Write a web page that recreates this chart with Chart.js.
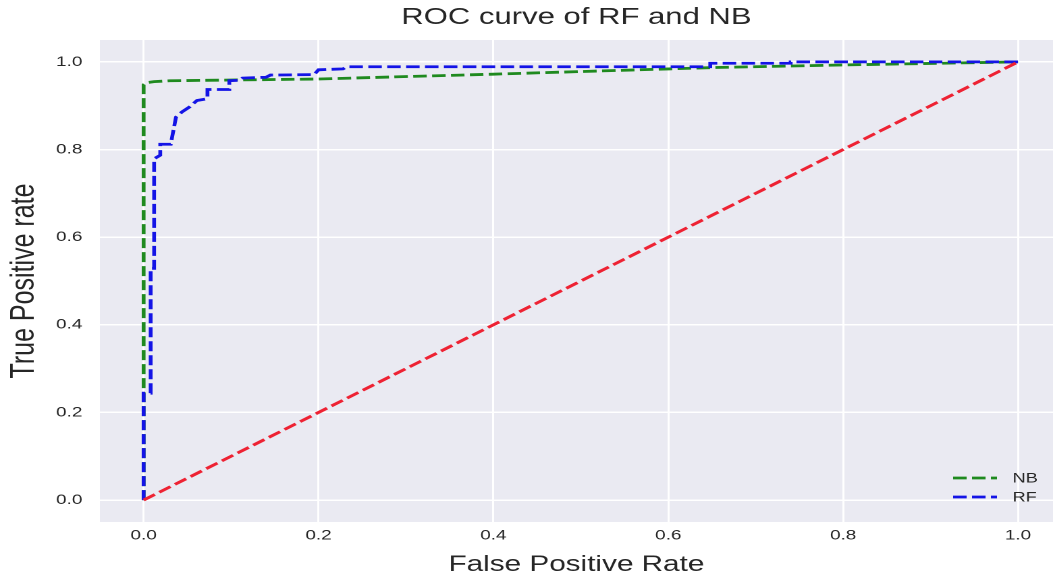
<!DOCTYPE html>
<html>
<head>
<meta charset="utf-8">
<script src="https://cdn.jsdelivr.net/npm/chart.js@4.4.1/dist/chart.umd.min.js"></script>
<style>
  html, body { margin: 0; padding: 0; background: #ffffff; overflow: hidden; }
  #c { display: block; width: 1053px; height: 578px; }
</style>
</head>
<body>
<canvas id="c" width="780" height="578" style="width:1053px;height:578px;"></canvas>
<script>
// ---- data ----
const titleText = "ROC curve of RF and NB";
const xLabel = "False Positive Rate";
const yLabel = "True Positive rate";
const xTicks = [0.0, 0.2, 0.4, 0.6, 0.8, 1.0];
const yTicks = [0.0, 0.2, 0.4, 0.6, 0.8, 1.0];

const nbFpr = [0.0, 0.0,  0.002, 0.005, 0.012, 0.03,  0.2,   0.4,   0.6,   0.65,  0.8,   1.0];
const nbTpr = [0.0, 0.948, 0.951, 0.953, 0.955, 0.957, 0.961, 0.972, 0.984, 0.987, 0.993, 1.0];

const rfFpr = [0.0, 0.0,   0.008, 0.008, 0.012, 0.012, 0.019, 0.019, 0.031, 0.037, 0.044, 0.053, 0.061, 0.073, 0.073, 0.098, 0.098, 0.11,  0.113, 0.14,  0.145, 0.195, 0.2,   0.228, 0.232, 0.648, 0.648, 0.74,  0.74, 1.0];
const rfTpr = [0.0, 0.244, 0.244, 0.529, 0.529, 0.779, 0.787, 0.812, 0.812, 0.874, 0.886, 0.898, 0.912, 0.916, 0.937, 0.937, 0.957, 0.958, 0.963, 0.965, 0.970, 0.971, 0.982, 0.984, 0.989, 0.989, 0.997, 0.997, 1.0,  1.0];

const diagFpr = [0.0, 1.0];
const diagTpr = [0.0, 1.0];

const nbLabel = "NB";
const rfLabel = "RF";

function pts(xs, ys) { return xs.map((x, i) => ({ x: x, y: ys[i] })); }

const FONT = "'Liberation Sans', Arial, Helvetica, sans-serif";
const TEXT = "#262626";

const plotBg = {
  id: 'plotBg',
  beforeDraw(chart) {
    const { ctx, chartArea: a } = chart;
    ctx.save();
    ctx.fillStyle = '#EAEAF2';
    ctx.fillRect(a.left, a.top, a.right - a.left, a.bottom - a.top);
    ctx.restore();
  }
};

const innerLegend = {
  id: 'innerLegend',
  afterDraw(chart) {
    const { ctx } = chart;
    const items = [chart.data.datasets[0], chart.data.datasets[1]];
    const x0 = 706, x1 = 738.5, tx = 750;
    const ys = [478, 497];
    ctx.save();
    items.forEach((ds, i) => {
      ctx.strokeStyle = ds.borderColor;
      ctx.lineWidth = ds.borderWidth;
      ctx.setLineDash(ds.borderDash);
      ctx.beginPath();
      ctx.moveTo(x0, ys[i]);
      ctx.lineTo(x1, ys[i]);
      ctx.stroke();
      ctx.setLineDash([]);
      ctx.fillStyle = TEXT;
      ctx.font = "13.5px " + FONT;
      ctx.textAlign = 'left';
      ctx.textBaseline = 'middle';
      ctx.fillText(ds.label, tx, ys[i] + 1);
    });
    ctx.restore();
  }
};

new Chart(document.getElementById('c'), {
  type: 'scatter',
  data: {
    datasets: [
      { label: nbLabel, data: pts(nbFpr, nbTpr), showLine: true, borderColor: '#1f8a1f', borderWidth: 2.8, borderDash: [10, 4], pointRadius: 0, tension: 0, order: 3 },
      { label: rfLabel, data: pts(rfFpr, rfTpr), showLine: true, borderColor: '#1414e6', borderWidth: 2.8, borderDash: [10, 4], pointRadius: 0, tension: 0, order: 2 },
      { label: 'diag', data: pts(diagFpr, diagTpr), showLine: true, borderColor: '#ee2233', borderWidth: 2.8, borderDash: [10, 4], pointRadius: 0, tension: 0, order: 1 }
    ]
  },
  options: {
    responsive: false,
    devicePixelRatio: 2,
    animation: false,
    layout: { padding: 0 },
    plugins: {
      legend: { display: false },
      tooltip: { enabled: false },
      title: {
        display: true,
        text: titleText,
        fullSize: false,
        color: TEXT,
        font: { family: FONT, size: 23, weight: 'normal', lineHeight: 1.2 },
        padding: { top: 4, bottom: 8.4 }
      }
    },
    scales: {
      x: {
        type: 'linear',
        min: -0.05,
        max: 1.04,
        afterBuildTicks: s => { s.ticks = xTicks.map(v => ({ value: v })); },
        afterFit: s => { s.height = 56; },
        grid: { color: '#ffffff', lineWidth: 1.5, drawTicks: false },
        border: { display: false },
        ticks: { color: TEXT, padding: 5, font: { family: FONT, size: 14 }, callback: v => Number(v).toFixed(1), maxRotation: 0, autoSkip: false },
        title: { display: true, text: xLabel, color: TEXT, font: { family: FONT, size: 22, lineHeight: 1.2 }, padding: { top: 0, bottom: 0 } }
      },
      y: {
        type: 'linear',
        min: -0.05,
        max: 1.05,
        afterBuildTicks: s => { s.ticks = yTicks.map(v => ({ value: v })); },
        afterFit: s => { s.width = 74; },
        grid: { color: '#ffffff', lineWidth: 1.5, drawTicks: false },
        border: { display: false },
        ticks: { color: TEXT, padding: 13, font: { family: FONT, size: 14 }, callback: v => Number(v).toFixed(1), autoSkip: false },
        title: { display: true, text: yLabel, color: TEXT, font: { family: FONT, size: 25, lineHeight: 1.2 }, padding: { top: 3, bottom: 0 } }
      }
    }
  },
  plugins: [plotBg, innerLegend]
});
</script>
</body>
</html>
